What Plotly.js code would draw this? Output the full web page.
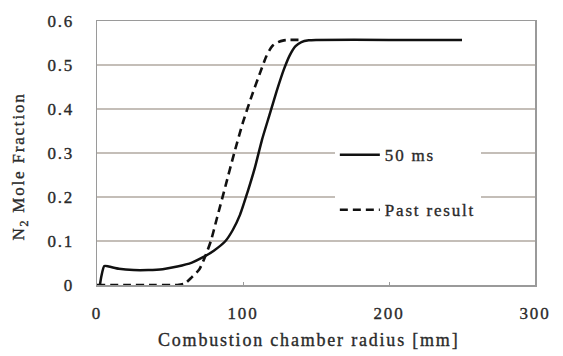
<!DOCTYPE html>
<html>
<head>
<meta charset="utf-8">
<script src="https://cdn.plot.ly/plotly-3.0.1.min.js"></script>
<style>
html,body{margin:0;padding:0;background:#fff;}
#chart{width:563px;height:356px;}
svg text{letter-spacing:1.8px;}
#chart svg text{stroke:#2a2a2a;stroke-width:0.35px;}
</style>
</head>
<body>
<div id="chart"></div>
<script>
// Data
const solidName = "50 ms";
const solidX = [2, 3, 5, 8, 15, 25, 35, 45, 55, 65, 72, 80, 88, 93, 98, 103, 108, 113, 118, 123, 128, 132, 136, 140, 145, 150, 200, 250];
const solidY = [0, 0.02, 0.043, 0.042, 0.037, 0.034, 0.034, 0.036, 0.042, 0.051, 0.062, 0.078, 0.10, 0.125, 0.16, 0.21, 0.265, 0.33, 0.385, 0.44, 0.49, 0.522, 0.543, 0.552, 0.556, 0.557, 0.557, 0.557];

const pastName = "Past result";
const pastX = [0, 20, 40, 55, 60, 65, 70, 74, 78, 82, 88, 94, 100, 106, 112, 116, 120, 124, 128, 132, 140];
const pastY = [0, 0, 0, 0, 0.003, 0.018, 0.035, 0.064, 0.10, 0.15, 0.225, 0.30, 0.37, 0.43, 0.485, 0.52, 0.543, 0.552, 0.556, 0.557, 0.557];

const xTicks = [0, 100, 200, 300];
const yTicks = [0, 0.1, 0.2, 0.3, 0.4, 0.5, 0.6];
const yTickText = ["0", "0.1", "0.2", "0.3", "0.4", "0.5", "0.6"];

const xTitle = "Combustion chamber radius [mm]";
const yTitle = "N<sub>2</sub> Mole Fraction";

const FONT = "Liberation Serif, Times New Roman, serif";
const INK = "#2a2a2a";

const traces = [
  {x: solidX, y: solidY, name: solidName, type: "scatter", mode: "lines",
   line: {color: "#111", width: 2.5, shape: "spline", smoothing: 0.6}, legendgroup: "a"},
  {x: pastX, y: pastY, name: pastName, type: "scatter", mode: "lines",
   line: {color: "#111", width: 2.6, dash: "8px,5px", shape: "spline", smoothing: 0.6}, legendgroup: "b"}
];

const layout = {
  width: 563, height: 356,
  margin: {l: 97, r: 28, t: 21, b: 71},
  paper_bgcolor: "#fff", plot_bgcolor: "#fff",
  font: {family: FONT, size: 18, color: INK},
  showlegend: true,
  legend: {x: 0.543, y: 0.56, xanchor: "left", yanchor: "top",
    bgcolor: "#fff", borderwidth: 0, tracegroupgap: 30, traceorder: "grouped",
    itemwidth: 40,
    font: {family: FONT, size: 17, color: INK}},
  xaxis: {range: [0, 300], tickvals: xTicks, ticktext: xTicks.map(String),
    showgrid: false, zeroline: false, showline: true, linecolor: "#9a9a9a", linewidth: 1.5,
    mirror: true, ticks: "inside", ticklen: 3, tickcolor: "#9a9a9a",
    ticklabelstandoff: 12, tickfont: {family: FONT, size: 17, color: INK}},
  yaxis: {range: [0, 0.6], tickvals: yTicks, ticktext: yTickText,
    showgrid: true, gridcolor: "#c4beb8", gridwidth: 1.3, zeroline: false,
    showline: true, linecolor: "#9a9a9a", linewidth: 1.5, mirror: true, ticks: "",
    ticklabelstandoff: 18, tickfont: {family: FONT, size: 17, color: INK}},
  annotations: [
    {text: xTitle, xref: "paper", yref: "paper", x: 0.483, y: -0.21, xanchor: "center", yanchor: "middle",
     showarrow: false, font: {family: FONT, size: 18, color: INK}},
    {text: yTitle, xref: "paper", yref: "paper", x: -0.175, y: 0.45, xanchor: "center", yanchor: "middle",
     textangle: -90, showarrow: false, font: {family: FONT, size: 17, color: INK}}
  ]
};

Plotly.newPlot("chart", traces, layout, {displayModeBar: false, staticPlot: true});
</script>
</body>
</html>
